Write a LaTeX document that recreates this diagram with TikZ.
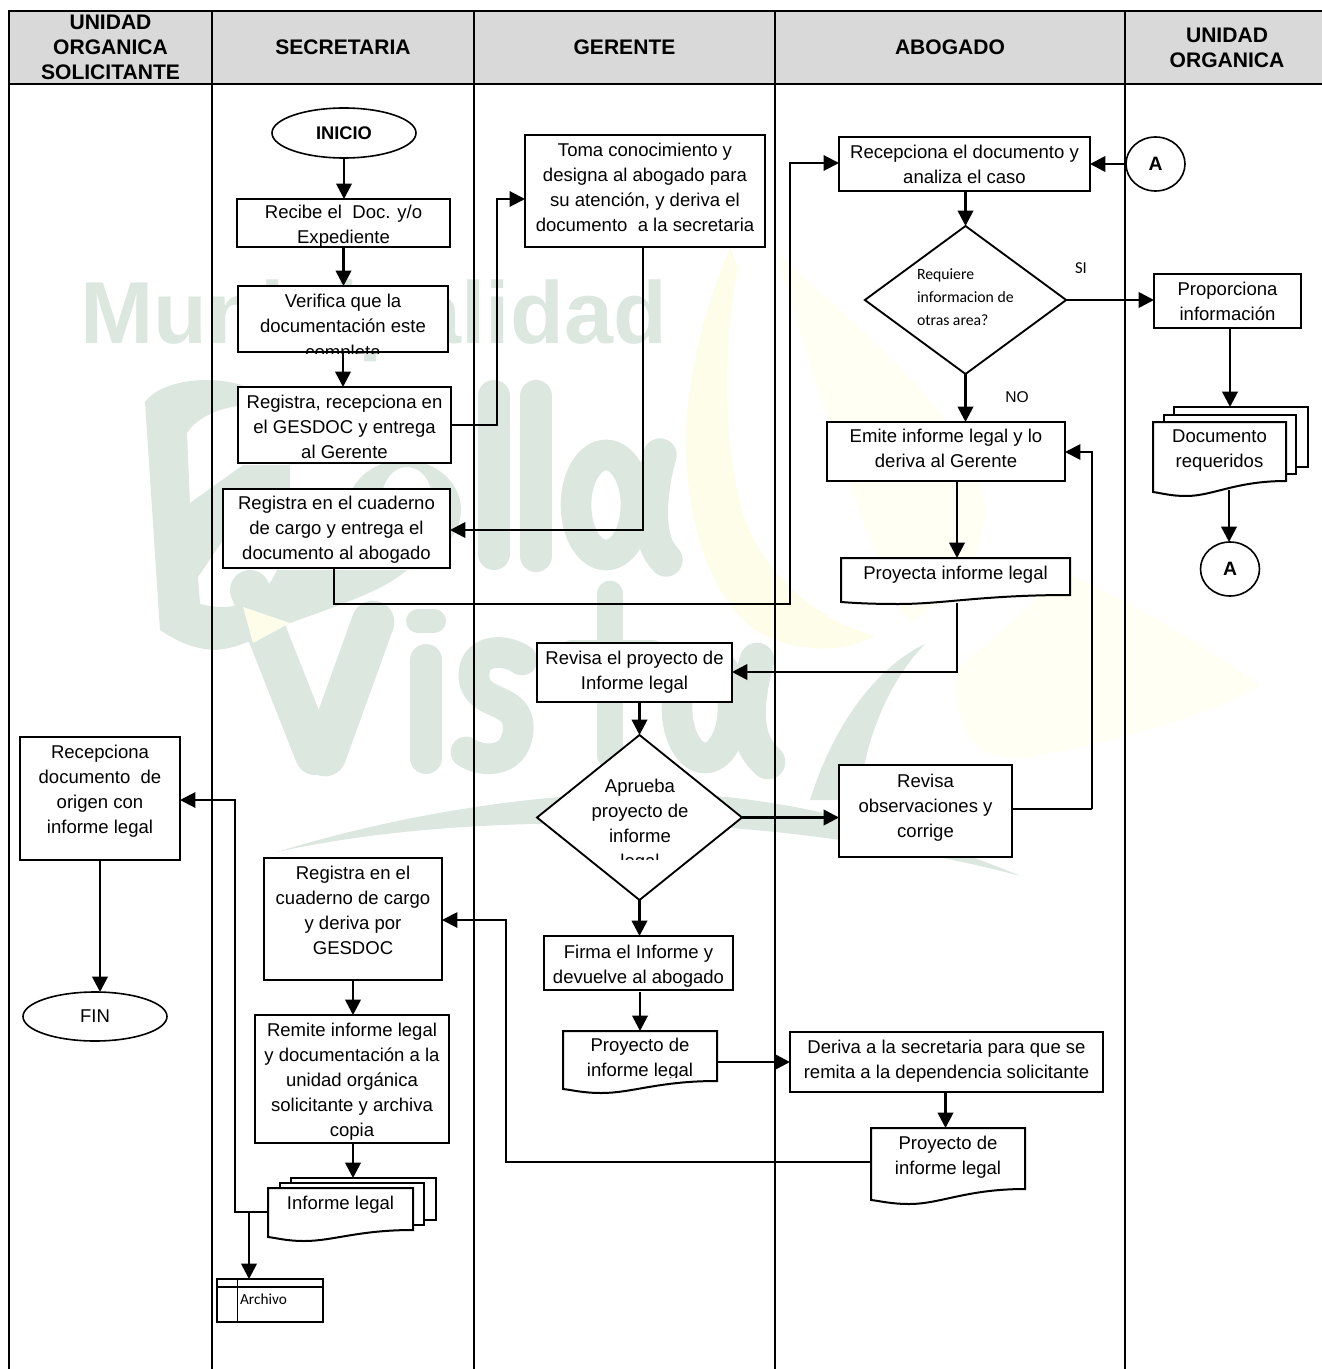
\documentclass[tikz,border=0pt]{standalone}
\usepackage{fontspec}
\setmainfont{Liberation Sans}
\newfontfamily\carl{Carlito}
\usetikzlibrary{arrows.meta,shapes.geometric}
\definecolor{wmgreen}{HTML}{DCE7E0}
\definecolor{wmyellow}{HTML}{FEFDEA}
\definecolor{wmpale}{HTML}{FFFFF4}
\definecolor{headgray}{HTML}{D9D9D9}
\tikzset{
  every node/.style={inner sep=0pt,outer sep=0pt},
  boxn/.style={draw=black,fill=white,line width=1.5pt,rectangle},
  plainn/.style={rectangle},
  headn/.style={draw=black,fill=headgray,line width=1.5pt,rectangle,align=center,font=\fontsize{15.8}{18.7}\selectfont\bfseries},
  celln/.style={draw=black,line width=1.5pt,rectangle},
  termn/.style={draw=black,fill=white,line width=1.2pt,ellipse},
  decn/.style={draw=black,fill=white,line width=1.4pt,diamond},
  conn/.style={line width=2pt,draw=black},
  arr/.style={conn,-{Triangle[length=11.5pt,width=11.5pt]}},
  thinc/.style={line width=1.5pt},
  docp/.style={draw=black,fill=white,line width=1.5pt},
  wmtext/.style={text=wmgreen,font=\bfseries},
  wmstroke/.style={draw=wmgreen,line cap=round,line join=round},
}
\newcommand{\bxsetup}[5]{%
  \pgfmathsetmacro{\bxw}{(#3-#1)*0.75}%
  \pgfmathsetmacro{\bxh}{(#4-#2)*0.75}%
  \pgfmathsetmacro{\bxcx}{(#1+#3)/2}%
  \pgfmathsetmacro{\bxcy}{(#2+#4)/2}%
  \pgfmathsetmacro{\bxd}{(#5-#2)*0.75+4.8-13.16}%
}
% name x1 y1 x2 y2 yfirstline text
\newcommand{\bx}[7]{%
  \bxsetup{#2}{#3}{#4}{#5}{#6}%
  \node[boxn,minimum width=\bxw pt,minimum height=\bxh pt] (#1) at (\bxcx,\bxcy)
   {\parbox[c][\bxh pt][t]{\bxw pt}{\fontsize{13.9}{18.8}\selectfont\vspace*{\bxd pt}\centering\strut #7}};%
}
% name x1 y1 x2 yR yL ymin yfirstline text
\newcommand{\dc}[9]{%
  \pgfmathsetmacro{\dw}{#4-#2}%
  \draw[docp] (#2,#3) -- (#4,#3) -- (#4,#5)
    .. controls ({#2+0.62*\dw},#5) and ({#2+0.45*\dw},#7) .. ({#2+0.25*\dw},#7)
    .. controls ({#2+0.13*\dw},#7) and ({#2+0.06*\dw},{#6+1}) .. (#2,#6) -- cycle;%
  \bxsetup{#2}{#3}{#4}{#5}{#8}%
  \node[plainn,minimum width=\bxw pt,minimum height=\bxh pt] (#1) at (\bxcx,\bxcy)
   {\parbox[c][\bxh pt][t]{\bxw pt}{\fontsize{13.9}{18.8}\selectfont\vspace*{\bxd pt}\centering\strut #9}};%
}
\begin{document}
\begin{tikzpicture}[x=0.75pt,y=-0.75pt]
\useasboundingbox (0,0) rectangle (1321,1369);
% watermark: leaves
\fill[wmpale] (776,252) .. controls (850,320) and (985,430) .. (985,510) .. controls (985,560) and (950,600) .. (910,622) .. controls (880,590) and (820,400) .. (776,252);
\fill[wmyellow] (730,247) .. controls (700,320) and (684,390) .. (686,454) .. controls (690,540) and (715,600) .. (755,630) .. controls (790,652) and (840,655) .. (875,636) .. controls (830,625) and (770,585) .. (745,520) .. controls (720,440) and (725,330) .. (738,268) -- cycle;
\fill[wmpale] (1063,572) .. controls (1130,600) and (1210,650) .. (1260,685) .. controls (1200,720) and (1100,745) .. (1024,758) .. controls (990,760) and (965,745) .. (963,722) .. controls (955,700) and (955,685) .. (959,668) .. controls (990,640) and (1040,600) .. (1063,572);
% watermark: Municipalidad
\node[wmtext,anchor=base west,font=\fontsize{66}{66}\selectfont\bfseries] (wm1) at (80,343) {Municipalidad};
% watermark: B
\fill[wmgreen] (145,402) .. controls (155,388) and (180,380) .. (207,380) .. controls (220,380) and (232,382) .. (245,386) -- (245,405) .. controls (215,408) and (195,420) .. (187,433) -- (190,503) -- (243,465) -- (290,465) -- (290,490) -- (230,530) -- (198,577) -- (200,604) .. controls (215,608) and (230,608) .. (243,604) .. controls (260,598) and (270,585) .. (277,570) -- (407,570) .. controls (385,590) and (340,605) .. (290,623) .. controls (260,637) and (235,650) .. (213,650) .. controls (190,648) and (175,640) .. (160,630) -- cycle;
% watermark: e
\fill[wmgreen,even odd rule] (404,510) ellipse [x radius=57,y radius=50] (407,498) ellipse [x radius=25,y radius=31];
% watermark: l l a
\draw[wmstroke,line width=24pt] (494,396) -- (494,554);
\draw[wmstroke,line width=24pt] (536,396) -- (536,556);
\draw[wmstroke,line width=23pt] (606,505) ellipse [x radius=30,y radius=50];
\draw[wmstroke,line width=25pt] (660,455) .. controls (650,490) and (645,540) .. (666,560);
% watermark: V i s t a
\draw[wmstroke,line width=30pt] (250,590) -- (315,755);
\draw[wmstroke,line width=32pt] (373,622) -- (325,755);
\fill[wmyellow] (243,607) -- (290,623) -- (253,643) -- cycle;
\draw[wmstroke,line width=18pt] (418,621) -- (434,621);
\draw[wmstroke,line width=24pt] (426,660) -- (426,758);
\draw[wmstroke,line width=23pt] (522,660) .. controls (505,648) and (472,648) .. (474,678) .. controls (477,708) and (522,695) .. (518,732) .. controls (514,765) and (480,762) .. (466,752);
\draw[wmstroke,line width=20pt] (610,594) -- (610,755);
\draw[wmstroke,line width=20pt] (572,653) -- (652,653);
\draw[wmstroke,line width=23pt] (705,708) ellipse [x radius=28,y radius=50];
\draw[wmstroke,line width=26pt] (757,660) .. controls (746,700) and (742,740) .. (768,762);
% watermark: swoosh and stem
\fill[wmgreen] (277,852) .. controls (380,820) and (520,793) .. (650,793) .. controls (790,793) and (920,835) .. (1021,876) .. controls (920,850) and (800,830) .. (680,825) .. controls (540,820) and (400,825) .. (277,852);
\fill[wmgreen] (925,644) .. controls (880,665) and (835,720) .. (810,800) -- (860,800) .. controls (862,750) and (885,685) .. (925,644);
% table
\foreach \n/\a/\b/\t in {h1/9/212/{UNIDAD\\ORGANICA\\SOLICITANTE},h2/212/474/{SECRETARIA},h3/474/775/{GERENTE},h4/775/1125/{ABOGADO},h5/1125/1329/{UNIDAD\\ORGANICA}}{
  \pgfmathsetmacro{\bxw}{(\b-\a)*0.75}
  \pgfmathsetmacro{\bxcx}{(\a+\b)/2}
  \node[headn,minimum width=\bxw pt,minimum height=54.75pt] (\n) at (\bxcx,47.5) {\t};
  \node[celln,minimum width=\bxw pt,minimum height=970pt] (c\n) at (\bxcx,730.7) {};
}
% secretaria
\node[termn,minimum width=108pt,minimum height=37.5pt,font=\fontsize{13.7}{16}\selectfont\bfseries] (inicio) at (344,133) {INICIO};
\bx{recibe}{237}{199}{450}{247}{212}{Recibe el\ \ Doc. y/o\\Expediente}
\begin{scope}
\clip (236,284) rectangle (450,353);
\bx{verif}{238}{286}{448}{352}{301.5}{Verifica que la\\documentación este\\completa}
\end{scope}
\bx{reg}{238}{387}{451}{463}{402}{Registra, recepciona en\\el GESDOC y entrega\\al Gerente}
\bx{cuad}{223}{489}{450}{568}{503}{Registra en el cuaderno\\de cargo y entrega el\\documento al abogado}
% gerente
\bx{toma}{525}{135}{765}{247}{150}{Toma conocimiento y\\designa al abogado para\\su atención, y deriva el\\documento\ \ a la secretaria}
\bx{rev}{537}{643}{732}{702}{658}{Revisa el proyecto de\\Informe legal}
\node[decn,minimum width=153.75pt,minimum height=123.75pt] (apr) at (639.5,817.5) {};
\begin{scope}
\clip (537,735) rectangle (742,859);
\node[align=center,font=\fontsize{13.9}{18.8}\selectfont] (aprt) at (640,825) {Aprueba\\proyecto de\\informe\\legal};
\end{scope}
\bx{firma}{544}{936}{733}{990}{952}{Firma el Informe y\\devuelve al abogado}
\dc{doc1}{563}{1031}{717}{1081}{1089}{1093}{1046}{}
\begin{scope}
\clip (563,1031) rectangle (717,1077);
\node[align=center,anchor=north,font=\fontsize{13.9}{18.8}\selectfont] (doc1t) at (640,1038) {Proyecto de\\informe legal};
\end{scope}
% abogado
\bx{recep}{839}{137}{1090}{191}{152}{Recepciona el documento y\\analiza el caso}
\node[decn,minimum width=151pt,minimum height=111pt] (dec) at (965.5,300) {};
\node[align=left,anchor=west,font=\carl\fontsize{11.8}{17.4}\selectfont] (dect) at (917,297) {Requiere\\informacion de\\otras area?};
\node[font=\carl\fontsize{12.5}{14}\selectfont] (si) at (1081,268) {SI};
\node[font=\fontsize{11.7}{14}\selectfont] (no) at (1017,397) {NO};
\bx{emite}{827}{422}{1065}{481}{436.5}{Emite informe legal y lo\\deriva al Gerente}
\dc{proy}{841}{558}{1070}{595}{602}{604}{573}{Proyecta informe legal}
\bx{obs}{839}{765}{1012}{857}{781}{Revisa\\observaciones y\\corrige}
\bx{deriva}{790}{1032}{1103}{1092}{1047}{Deriva a la secretaria para que se\\remita a la dependencia solicitante}
\dc{doc2}{871}{1128}{1025}{1189}{1200}{1204}{1143}{Proyecto de\\informe legal}
% secretaria inferior
\bx{regb}{264}{858}{442}{980}{873}{Registra en el\\cuaderno de cargo\\y deriva por\\GESDOC}
\bx{remite}{255}{1015}{449}{1143}{1030}{Remite informe legal\\y documentación a la\\unidad orgánica\\solicitante y archiva\\copia}
\draw[docp] (291,1178) rectangle (436,1220);
\draw[docp] (280,1183) rectangle (423.5,1225);
\dc{inf}{268}{1188}{413}{1230}{1237}{1241}{1203}{Informe legal}
\node[celln,fill=white,minimum width=79.5pt,minimum height=32.25pt] (arch) at (270,1300.5) {};
\coordinate (archa) at (217,1287);
\coordinate (archb) at (323,1287);
\coordinate (archc) at (237.5,1279);
\coordinate (archd) at (237.5,1322);
\draw[line width=1.2pt] (archa) -- (archb) (archc) -- (archd);
\node[anchor=west,font=\carl\fontsize{11.5}{14}\selectfont] (archt) at (240,1299) {Archivo};
% unidad solicitante
\bx{orig}{20}{737}{180}{860}{752}{Recepciona\\documento\ \ de\\origen con\\informe legal}
\node[termn,minimum width=108pt,minimum height=36.75pt,font=\fontsize{13.9}{16}\selectfont] (fin) at (95,1016.5) {FIN};
% unidad organica
\node[termn,minimum width=44.25pt,minimum height=40.5pt,font=\fontsize{14.5}{16}\selectfont\bfseries] (a1) at (1155.5,164) {A};
\bx{prop}{1154}{274}{1301}{328}{289}{Proporciona\\información}
\draw[docp] (1174,407) rectangle (1307.5,467);
\draw[docp] (1164,415) rectangle (1296,474);
\dc{docr}{1153}{422}{1286}{481}{492}{496}{436}{Documento\\requeridos}
\node[termn,minimum width=44.25pt,minimum height=40.5pt,font=\fontsize{14.5}{16}\selectfont\bfseries] (a2) at (1230,569) {A};
% waypoints
\coordinate (p1) at (497,199);
\coordinate (p2) at (643,530);
\coordinate (p3) at (334,604);
\coordinate (p4) at (790,604);
\coordinate (p5) at (790,163);
\coordinate (p6) at (957,672);
\coordinate (p7) at (957,603);
\coordinate (p8) at (1092,809);
\coordinate (p9) at (1092,452);
\coordinate (p10) at (750,1062);
\coordinate (p11) at (506,1162);
\coordinate (p12) at (506,920);
\coordinate (p13) at (353,1178);
\coordinate (p14) at (235,1212);
\coordinate (p15) at (235,800);
\coordinate (p16) at (249,1212);
\coordinate (p17) at (1229,490);
\coordinate (p18) at (1230,407);
\coordinate (p19) at (640,992);
\coordinate (p20) at (945.5,1092);
% connectors
\draw[arr] (inicio.south) -- (inicio.south |- recibe.north);
\draw[arr] (recibe.south) -- (recibe.south |- verif.north);
\draw[arr] (verif.south) -- (verif.south |- reg.north);
\draw[arr,thinc] (reg.east) -- (reg.east -| p1) -- (p1) -- (toma.west |- p1);
\draw[arr] (toma.south -| p2) -- (p2) -- (cuad.east |- p2);
\draw[arr,thinc] (cuad.south -| p3) -- (p3) -- (p4) -- (p5) -- (recep.west |- p5);
\draw[arr] (a1.west) -- (recep.east |- a1.west);
\draw[arr] (recep.south -| dec.north) -- (dec.north);
\draw[arr] (dec.east) -- (prop.west |- dec.east);
\draw[arr] (dec.south) -- (dec.south |- emite.north);
\draw[arr] (emite.south -| p6) -- (p6 |- proy.north);
\draw[arr] (p7) -- (p6) -- (rev.east |- p6);
\draw[arr] (rev.south -| apr.north) -- (apr.north);
\draw[arr] (apr.east) -- (obs.west |- apr.east);
\draw[conn,thinc] (obs.east |- p8) -- (p8);
\draw[arr,thinc] (p8) -- (p9) -- (emite.east |- p9);
\draw[arr] (apr.south) -- (apr.south |- firma.north);
\draw[arr] (p19) -- (p19 |- doc1.north);
\draw[arr] (doc1.east |- p10) -- (deriva.west |- p10);
\draw[arr] (p20) -- (p20 |- doc2.north);
\draw[arr,thinc] (doc2.west |- p11) -- (p11) -- (p12) -- (regb.east |- p12);
\draw[arr] (regb.south) -- (regb.south |- remite.north);
\draw[arr] (remite.south -| p13) -- (p13);
\draw[arr,thinc] (inf.west |- p14) -- (p14) -- (p15) -- (orig.east |- p15);
\draw[arr] (p16) -- (p16 |- arch.north);
\draw[arr] (orig.south) -- (orig.south |- fin.north);
\draw[arr] (prop.south -| p18) -- (p18);
\draw[arr] (p17) -- (p17 |- a2.north);
\end{tikzpicture}
\end{document}
